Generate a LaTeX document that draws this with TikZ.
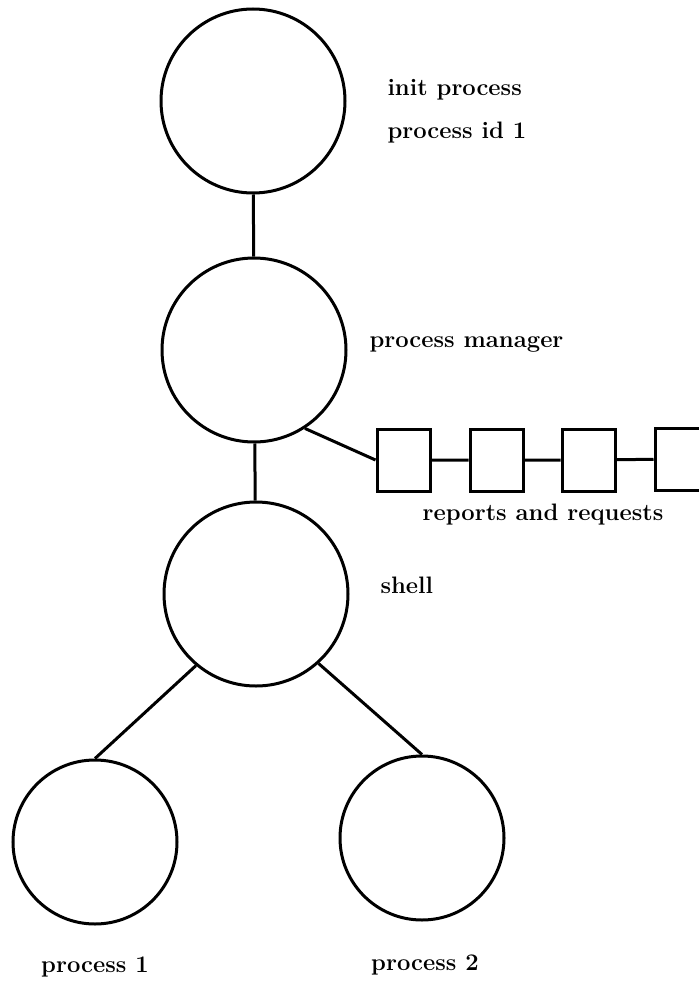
\documentclass[tikz,border=0pt]{standalone}
\begin{document}
\begin{tikzpicture}[x=0.5pt,y=-0.5pt,line width=1.5pt,font=\fontsize{11.9}{14}\selectfont\bfseries]
        \tikzstyle{proc}=[draw,circle,inner sep=0pt,minimum size=92pt];
        \tikzstyle{small proc}=[proc,minimum size=82pt];
        \tikzstyle{msg}=[draw,rectangle,inner sep=0pt,minimum width=26.5pt,minimum height=31pt];
        \tikzstyle{lbl}=[inner sep=0pt];
        \useasboundingbox (0,0) rectangle (699,985);
        \node[proc] (init) at (253,101) {};
        \node[proc] (pm) at (254,350) {};
        \node[proc] (shell) at (256,594) {};
        \node[small proc] (p1) at (95,842) {};
        \node[small proc] (p2) at (422,838) {};
        \node[msg] (m1) at (403.5,460) {};
        \node[msg] (m2) at (496.5,460) {};
        \node[msg] (m3) at (588.5,460) {};
        \node[msg] (m4) at (681.5,459) {};
        % labels
        \node[lbl,anchor=base west] (tinit) at (386,95) {init process};
        \node[lbl,anchor=base west] (tid) at (386,138) {process id 1};
        \node[lbl,anchor=base west] (tpm) at (368,347) {process manager};
        \node[lbl,anchor=base] (tmsg) at (543,520) {reports and requests};
        \node[lbl,anchor=base west] (tshell) at (379,593) {shell};
        \node[lbl,anchor=base] (tp1) at (95,972) {process 1};
        \node[lbl,anchor=base] (tp2) at (425,970) {process 2};
        \draw (init) -- (pm) -- (shell);
        \draw (pm.303) -- (m1.west);
        \draw (m1) -- (m2) -- (m3) -- (m4);
        \draw (shell.230) -- (p1.north);
        \draw (shell.312) -- (p2.north);
      \end{tikzpicture}
\end{document}
